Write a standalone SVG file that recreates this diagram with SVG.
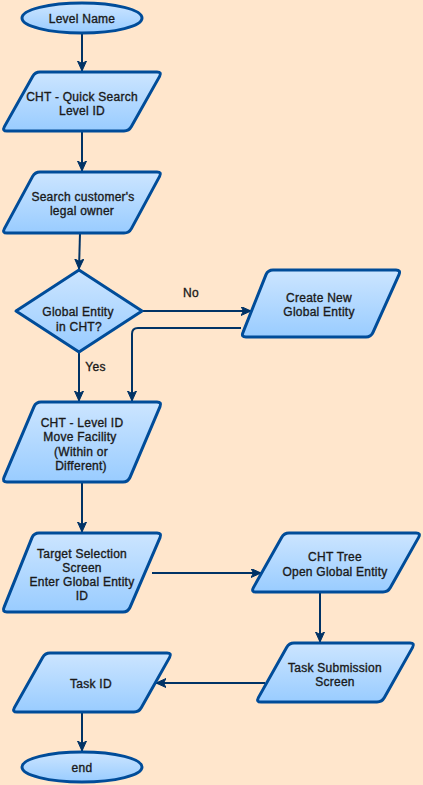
<svg xmlns="http://www.w3.org/2000/svg" width="423" height="785" viewBox="0 0 423 785">
<defs>
<linearGradient id="g" x1="0" y1="0" x2="0" y2="1">
<stop offset="0" stop-color="#CCE5FF"/>
<stop offset="1" stop-color="#99CCFF"/>
</linearGradient>
<marker id="arr" markerUnits="userSpaceOnUse" markerWidth="11" markerHeight="10" refX="10" refY="4.5" orient="auto" viewBox="0 0 11 10">
<path d="M0,0 L10,4.5 L0,9 L2.5,4.5 Z" fill="#003366" stroke="#003366" stroke-width="1" stroke-linejoin="miter"/>
</marker>
<style>
.n{fill:url(#g);stroke:#004C99;stroke-width:3;stroke-linejoin:round}
.e{fill:none;stroke:#003366;stroke-width:2;marker-end:url(#arr)}
text{font-family:"Liberation Sans",Arial,Helvetica,sans-serif;font-size:12px;fill:#1A1A1A;stroke:#1A1A1A;stroke-width:0.35px;text-anchor:middle;letter-spacing:0.25px}
</style>
</defs>
<rect x="0" y="0" width="423" height="785" fill="#FFE6CC"/>
<g id="connectors">
<path class="e" d="M82,33 L82,71"/>
<path class="e" d="M82,131 L82,171"/>
<path class="e" d="M80,233 L79,269"/>
<path class="e" d="M142,311 L251,311"/>
<path class="e" d="M79,352 L79,401"/>
<path class="e" d="M241,328 L138,328 Q132,328 132,334 L132,401"/>
<path class="e" d="M82,482 L82,532"/>
<path class="e" d="M152,573 L261,573"/>
<path class="e" d="M320,592 L320,642"/>
<path class="e" d="M265,683 L156,683"/>
<path class="e" d="M82,712 L82,751"/>
<text x="191" y="297">No</text>
<text x="95.5" y="371">Yes</text>
</g>
<g id="level-name">
<ellipse class="n" cx="82" cy="18" rx="60" ry="15"/>
<text x="82" y="22.5">Level Name</text>
</g>
<g id="quick-search">
<path class="n" d="M40,72 L157,72 Q162,72 159.6,76.4 L131.4,126.6 Q129,131 124,131 L7,131 Q2,131 4.4,126.6 L32.6,76.4 Q35,72 40,72 Z"/>
<text x="82" y="101">CHT - Quick Search</text>
<text x="82" y="115">Level ID</text>
</g>
<g id="search-owner">
<path class="n" d="M40,172 L157,172 Q162,172 159.6,176.4 L131.4,228.6 Q129,233 124,233 L7,233 Q2,233 4.4,228.6 L32.6,176.4 Q35,172 40,172 Z"/>
<text x="83" y="201">Search customer's</text>
<text x="82" y="215">legal owner</text>
</g>
<g id="decision">
<polygon class="n" points="79,270 142,311 79,352 16,311"/>
<text x="78" y="316">Global Entity</text>
<text x="79" y="331">in CHT?</text>
</g>
<g id="create-new">
<path class="n" d="M273,270 L396,270 Q401,270 399,274.6 L373,332.4 Q371,337 366,337 L246,337 Q241,337 243,332.4 L266,274.6 Q268,270 273,270 Z"/>
<text x="319" y="302">Create New</text>
<text x="319" y="316">Global Entity</text>
</g>
<g id="move-facility">
<path class="n" d="M41,402 L157,402 Q162,402 160,406.6 L130,477.4 Q128,482 123,482 L7,482 Q2,482 4,477.4 L34,406.6 Q36,402 41,402 Z"/>
<text x="82" y="426.5">CHT - Level ID</text>
<text x="80" y="441">Move Facility</text>
<text x="81" y="455.5">(Within or</text>
<text x="81" y="470">Different)</text>
</g>
<g id="target-selection">
<path class="n" d="M39,533 L157,533 Q162,533 160,537.6 L130,607.4 Q128,612 123,612 L7,612 Q2,612 4,607.4 L32,537.6 Q34,533 39,533 Z"/>
<text x="82" y="557.5">Target Selection</text>
<text x="82" y="571.5">Screen</text>
<text x="82" y="585.5">Enter Global Entity</text>
<text x="82" y="599.5">ID</text>
</g>
<g id="cht-tree">
<path class="n" d="M289,533 L416,533 Q421,533 418.6,537.4 L390.4,587.6 Q388,592 383,592 L256,592 Q251,592 253.4,587.6 L281.6,537.4 Q284,533 289,533 Z"/>
<text x="335" y="560.5">CHT Tree</text>
<text x="335" y="575.5">Open Global Entity</text>
</g>
<g id="task-submission">
<path class="n" d="M294,643 L410,643 Q415,643 412.6,647.4 L384.4,697.6 Q382,702 377,702 L261,702 Q256,702 258.4,697.6 L286.6,647.4 Q289,643 294,643 Z"/>
<text x="335" y="671.5">Task Submission</text>
<text x="335" y="685.5">Screen</text>
</g>
<g id="task-id">
<path class="n" d="M50,653 L167,653 Q172,653 169.6,657.4 L141.4,707.6 Q139,712 134,712 L17,712 Q12,712 14.4,707.6 L42.6,657.4 Q45,653 50,653 Z"/>
<text x="91" y="687.5">Task ID</text>
</g>
<g id="end">
<ellipse class="n" cx="82" cy="767" rx="60" ry="15"/>
<text x="82" y="771.5">end</text>
</g>
</svg>
